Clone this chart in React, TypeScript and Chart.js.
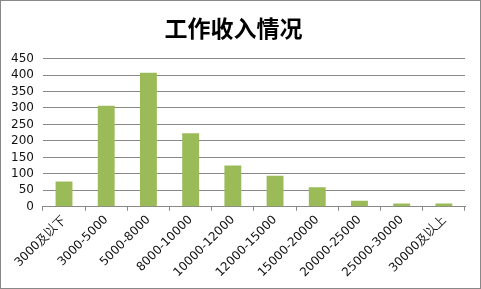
import React, { useEffect, useRef } from "react";
import { Chart, registerables } from "chart.js";

Chart.register(...registerables);

const titleText = "工作收入情况";
const categories = [
  "3000及以下",
  "3000-5000",
  "5000-8000",
  "8000-10000",
  "10000-12000",
  "12000-15000",
  "15000-20000",
  "20000-25000",
  "25000-30000",
  "30000及以上",
];
const values = [77, 307, 407, 223, 125, 94, 59, 18, 10, 10];
const yMin = 0;
const yMax = 450;
const yStep = 50;

export default function App() {
  const ref = useRef<HTMLCanvasElement | null>(null);

  useEffect(() => {
    document.body.style.margin = "0";
    const canvas = ref.current;
    if (!canvas) return;
    const tickFont = { family: "DejaVu Sans", size: 12 };
    const chart = new Chart(canvas, {
      type: "bar",
      data: {
        labels: categories,
        datasets: [
          {
            data: values,
            backgroundColor: "#9BBB59",
            borderWidth: 0,
            barPercentage: 0.4,
            categoryPercentage: 1,
          },
        ],
      },
      options: {
        animation: false,
        responsive: false,
        maintainAspectRatio: false,
        layout: { padding: { left: 1, right: 15, bottom: 6, top: 0 } },
        plugins: {
          legend: { display: false },
          tooltip: { enabled: false },
          title: {
            display: true,
            text: titleText,
            color: "#000",
            font: { family: "Noto Sans CJK SC", size: 23, weight: "bold" },
            padding: { top: 13, bottom: 17 },
          },
        },
        scales: {
          x: {
            grid: {
              offset: true,
              drawOnChartArea: false,
              drawTicks: true,
              tickLength: 4,
              color: "#888",
            },
            border: { display: true, color: "#888" },
            ticks: {
              color: "#111",
              font: tickFont,
              minRotation: 45,
              maxRotation: 45,
              autoSkip: false,
              padding: 2,
            },
          },
          y: {
            min: yMin,
            max: yMax,
            grid: { color: "#888", drawTicks: false },
            border: { display: false },
            ticks: {
              stepSize: yStep,
              autoSkip: false,
              color: "#111",
              font: tickFont,
              padding: 9,
            },
          },
        },
      },
    });
    return () => chart.destroy();
  }, []);

  return (
    <div
      style={{
        position: "absolute",
        left: 0,
        top: 0,
        width: 481,
        height: 289,
        boxSizing: "border-box",
        border: "1px solid #888",
        background: "#fff",
      }}
    >
      <canvas ref={ref} width={479} height={287} style={{ display: "block" }} />
    </div>
  );
}
